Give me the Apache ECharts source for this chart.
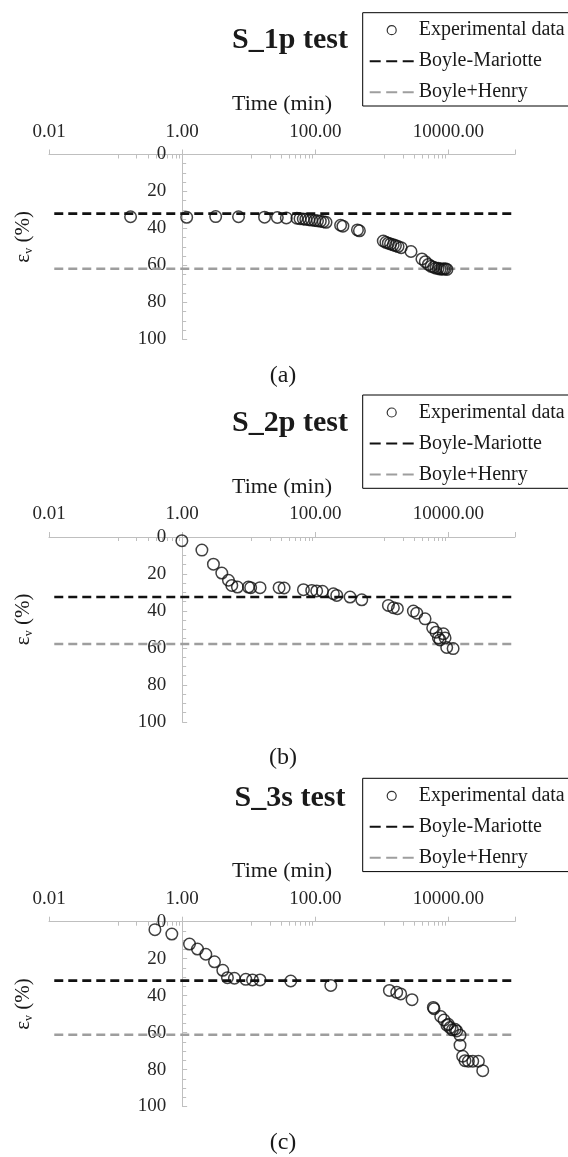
<!DOCTYPE html>
<html>
<head>
<meta charset="utf-8">
<script src="https://cdn.jsdelivr.net/npm/echarts@6/dist/echarts.min.js"></script>
<style>
html,body{margin:0;padding:0;background:#fff;}
#c{width:568px;height:1157px;}
</style>
</head>
<body>
<div id="c"></div>
<script>
// ---------- data ----------
const panelTitles = ['S_1p test', 'S_2p test', 'S_3s test'];
const panelCaptions = ['(a)', '(b)', '(c)'];
const seriesNames = ['Experimental data', 'Boyle-Mariotte', 'Boyle+Henry'];
const xRange = [0.01, 100000];
const yRange = [0, 100];
const lineStartTime = 0.012;

const timeA = [0.168, 1.17, 3.19, 7.03, 17.3, 26.9, 36.7, 53, 59, 66, 72, 80, 88, 98, 108, 119, 132, 145, 240, 260, 430, 460, 1050, 1150, 1250, 1350, 1480, 1600, 1750, 1950, 2740, 4000, 4500, 5000, 5500, 6000, 6500, 7000, 7500, 8000, 8500, 9000, 9500];
const strainA = [33.7, 34.0, 33.6, 33.7, 33.9, 34.1, 34.3, 34.5, 34.7, 34.9, 35.1, 35.3, 35.5, 35.7, 35.9, 36.1, 36.4, 36.7, 38.3, 38.8, 40.8, 41.3, 46.8, 47.5, 48.0, 48.4, 48.9, 49.3, 49.8, 50.4, 52.5, 56.5, 58.0, 59.5, 60.5, 61.0, 61.5, 61.5, 62.0, 62.0, 62.0, 61.8, 62.2];
const boyleMariotteA = 32.0;
const boyleHenryA = 61.8;

const timeB = [0.99, 1.98, 2.95, 3.94, 4.96, 5.57, 6.77, 9.9, 10.7, 14.8, 28.6, 34, 66.4, 88.5, 105, 128, 187, 210, 333, 499, 1254, 1490, 1711, 2973, 3343, 4456, 5800, 6511, 7060, 7480, 8400, 8900, 9420, 11760];
const strainB = [2.0, 7.1, 14.7, 19.5, 23.4, 26.2, 27.1, 27.1, 27.4, 27.4, 27.4, 27.6, 28.5, 28.9, 29.2, 29.4, 30.7, 31.6, 32.5, 34.0, 37.0, 38.3, 38.8, 40.1, 41.2, 44.3, 49.2, 51.5, 54.6, 55.7, 52.4, 54.6, 59.8, 60.4];
const boyleMariotteB = 32.5;
const boyleHenryB = 57.9;

const timeC = [0.39, 0.70, 1.29, 1.70, 2.27, 3.06, 4.08, 4.79, 6.1, 9.04, 11.4, 14.8, 42.8, 171, 1297, 1672, 1918, 2838, 5930, 6080, 7660, 8590, 9500, 9960, 10570, 11500, 12590, 13300, 14930, 14930, 16370, 17740, 19950, 23200, 28200, 32780];
const strainC = [4.3, 6.7, 12.1, 14.8, 17.6, 21.7, 26.3, 30.3, 30.6, 31.2, 31.5, 31.5, 32.1, 34.5, 37.2, 38.2, 39.1, 42.2, 46.4, 47.1, 51.3, 53.2, 56.0, 55.5, 57.3, 58.5, 58.2, 59.1, 61.4, 66.8, 72.8, 75.2, 75.5, 75.5, 75.5, 80.6];
const boyleMariotteC = 31.9;
const boyleHenryC = 61.2;

// ---------- layout (positions / styles) ----------
const FONT = '"Liberation Serif", "Times New Roman", serif';
const AXIS_GRAY = '#bfbfbf';
const TEXT = '#1a1a1a';
const layout = [
  {axisY: 154.5, titleTop: 25, legendTop: 12.7, capTop: 364},
  {axisY: 537, titleTop: 408, legendTop: 395, capTop: 746},
  {axisY: 921.7, titleTop: 783, legendTop: 778.3, capTop: 1131}
];
const panelData = [
  {t: timeA, s: strainA, bm: boyleMariotteA, bh: boyleHenryA},
  {t: timeB, s: strainB, bm: boyleMariotteB, bh: boyleHenryB},
  {t: timeC, s: strainC, bm: boyleMariotteC, bh: boyleHenryC}
];
const GRID_LEFT = 49, GRID_W = 466, GRID_H = 184.8;
// y-axis crosses the log x-axis at t = 1
const yAxisOffset = -GRID_W * (Math.log10(1) - Math.log10(xRange[0])) / (Math.log10(xRange[1]) - Math.log10(xRange[0]));

const zip = (a, b) => a.map((v, i) => [v, b[i]]);
const hiddenSymbol = {color: 'rgba(0,0,0,0)', borderColor: 'rgba(0,0,0,0)', borderWidth: 0};

const option = {
  animation: false,
  backgroundColor: '#fff',
  title: [],
  legend: [],
  grid: [],
  xAxis: [],
  yAxis: [],
  series: []
};

layout.forEach((L, i) => {
  const D = panelData[i];
  option.title.push({
    text: panelTitles[i], left: 290, top: L.titleTop, textAlign: 'center', padding: 0,
    textStyle: {fontFamily: FONT, fontWeight: 'bold', fontSize: 30, color: TEXT}
  });
  option.title.push({
    text: panelCaptions[i], left: 283, top: L.capTop, textAlign: 'center', padding: 0,
    textStyle: {fontFamily: FONT, fontWeight: 'normal', fontSize: 24, color: TEXT}
  });
  option.legend.push({
    orient: 'vertical', left: 362.7, top: L.legendTop,
    padding: [7.5, 40, 3.8, 6],
    itemWidth: 44, itemHeight: 9, itemGap: 11,
    borderColor: '#000', borderWidth: 1, backgroundColor: '#fff',
    selectedMode: false,
    textStyle: {fontFamily: FONT, fontSize: 20, color: TEXT, lineHeight: 20},
    data: [
      {name: seriesNames[0], icon: 'circle', itemStyle: {color: 'rgba(0,0,0,0)', borderColor: '#000', borderWidth: 1.2}},
      {name: seriesNames[1], itemStyle: hiddenSymbol, lineStyle: {type: [11, 5.5]}},
      {name: seriesNames[2], itemStyle: hiddenSymbol, lineStyle: {type: [11, 5.5]}}
    ]
  });
  option.grid.push({
    left: GRID_LEFT, top: L.axisY, width: GRID_W, height: GRID_H,
    containLabel: false, outerBoundsMode: 'none'
  });
  option.xAxis.push({
    type: 'log', logBase: 100, gridIndex: i, position: 'top',
    min: xRange[0], max: xRange[1],
    name: 'Time (min)', nameLocation: 'middle', nameGap: 39,
    nameTextStyle: {fontFamily: FONT, fontSize: 22, color: TEXT},
    axisLine: {onZero: false, lineStyle: {color: AXIS_GRAY, width: 1}},
    axisTick: {show: true, inside: false, length: 5, lineStyle: {color: AXIS_GRAY}},
    minorTick: {show: true, splitNumber: 10, length: -4, lineStyle: {color: AXIS_GRAY}},
    splitLine: {show: false},
    axisLabel: {
      margin: 13, fontFamily: FONT, fontSize: 19, color: '#262626', showMaxLabel: false,
      formatter: v => (v >= xRange[1] * 0.99 ? '' : Number(v).toFixed(2))
    }
  });
  option.yAxis.push({
    type: 'value', gridIndex: i, inverse: true, position: 'left', offset: yAxisOffset,
    min: yRange[0], max: yRange[1], interval: 20,
    name: '{e|ε}{v|v}{e| (%)}', nameLocation: 'middle', nameGap: 147,
    nameTextStyle: {
      fontFamily: FONT, fontSize: 21, color: TEXT, padding: [0, 0, 0, 20],
      rich: {
        e: {fontFamily: FONT, fontSize: 21, color: TEXT},
        v: {fontFamily: FONT, fontSize: 12, color: TEXT, verticalAlign: 'bottom', lineHeight: 24}
      }
    },
    axisLine: {show: true, onZero: false, lineStyle: {color: AXIS_GRAY, width: 1}},
    axisTick: {show: true, inside: true, length: 5, lineStyle: {color: AXIS_GRAY}},
    minorTick: {show: true, splitNumber: 4, length: 4, lineStyle: {color: AXIS_GRAY}},
    splitLine: {show: false},
    axisLabel: {margin: 16, fontFamily: FONT, fontSize: 19, color: '#262626'}
  });
  option.series.push({
    name: seriesNames[0], type: 'scatter', xAxisIndex: i, yAxisIndex: i,
    symbol: 'circle', symbolSize: 11.5,
    itemStyle: {color: 'rgba(0,0,0,0)', borderColor: '#111', borderWidth: 1.5},
    data: zip(D.t, D.s), z: 3
  });
  option.series.push({
    name: seriesNames[1], type: 'line', xAxisIndex: i, yAxisIndex: i,
    symbol: 'none', showSymbol: false, color: '#111',
    lineStyle: {color: '#111', width: 2.6, type: [9, 5]},
    data: [[lineStartTime, D.bm], [xRange[1], D.bm]], z: 2
  });
  option.series.push({
    name: seriesNames[2], type: 'line', xAxisIndex: i, yAxisIndex: i,
    symbol: 'none', showSymbol: false, color: '#9e9e9e',
    lineStyle: {color: '#9e9e9e', width: 2.6, type: [9, 5]},
    data: [[lineStartTime, D.bh], [xRange[1], D.bh]], z: 2
  });
});

const chart = echarts.init(document.getElementById('c'));
chart.setOption(option);
</script>
</body>
</html>
